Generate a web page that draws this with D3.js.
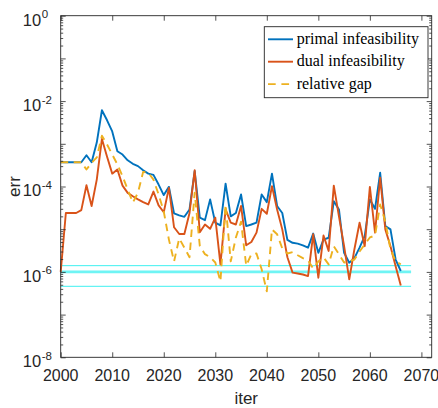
<!DOCTYPE html>
<html>
<head>
<meta charset="utf-8">
<script src="https://cdn.jsdelivr.net/npm/d3@7"></script>
<style>
  body { margin: 0; background: #fff; }
  svg { display: block; }
</style>
</head>
<body>
<svg id="chart"></svg>
<script>
// iterations 2000..2066
const iters = [
  2000, 2001, 2002, 2003, 2004, 2005, 2006, 2007, 2008, 2009,
  2010, 2011, 2012, 2013, 2014, 2015, 2016, 2017, 2018, 2019,
  2020, 2021, 2022, 2023, 2024, 2025, 2026, 2027, 2028, 2029,
  2030, 2031, 2032, 2033, 2034, 2035, 2036, 2037, 2038, 2039,
  2040, 2041, 2042, 2043, 2044, 2045, 2046, 2047, 2048, 2049,
  2050, 2051, 2052, 2053, 2054, 2055, 2056, 2057, 2058, 2059,
  2060, 2061, 2062, 2063, 2064, 2065, 2066
];

const primal = [
  3.7e-4, 3.7e-4, 3.7e-4, 3.7e-4, 3.7e-4, 5.4e-4, 3.7e-4, 1.07e-3, 6.1e-3, 3.55e-3,
  1.95e-3, 6.7e-4, 5.6e-4, 4.1e-4, 3.4e-4, 3.0e-4, 2.4e-4, 2.0e-4, 1.87e-4, 1.11e-4,
  6.3e-5, 9.8e-5, 2.34e-5, 2.1e-5, 1.95e-5, 2.9e-5, 2.3e-4, 1.86e-5, 1.63e-5, 5.0e-5,
  1.42e-5, 1.23e-5, 1.17e-4, 2.0e-5, 2.4e-5, 6.5e-5, 1.18e-5, 1.29e-5, 1.42e-5, 6.5e-5,
  4.3e-5, 2.0e-4, 3.5e-5, 2.4e-5, 5.6e-6, 4.8e-6, 4.6e-6, 4.2e-6, 3.7e-6, 7.9e-6,
  2.8e-6, 5.7e-6, 6.3e-6, 4.5e-5, 2.9e-5, 2.8e-6, 1.64e-6, 2.1e-6, 3.7e-6, 6.9e-6,
  5.0e-5, 3.0e-5, 2.1e-4, 1.18e-5, 9.9e-6, 1.95e-6, 1.05e-6
];

const dual = [
  1.0e-6, 2.4e-5, 2.4e-5, 2.4e-5, 2.8e-5, 1.07e-4, 3.5e-5, 1.45e-4, 1.3e-3, 5.0e-4,
  2.0e-4, 2.5e-4, 1.05e-4, 7.1e-5, 5.9e-5, 5.0e-5, 4.3e-5, 3.8e-5, 7.6e-5, 3.6e-5,
  2.5e-5, 9.3e-5, 1.11e-5, 7.7e-6, 7.7e-6, 2.4e-5, 2.4e-4, 8.5e-6, 1.29e-5, 1.02e-5,
  1.86e-5, 1.5e-6, 2.9e-5, 1.42e-5, 1.29e-5, 3.5e-5, 4.2e-6, 5.0e-6, 8.3e-6, 3.0e-5,
  2.3e-5, 1.02e-4, 2.9e-5, 9.9e-6, 2.2e-6, 9.6e-7, 9.2e-7, 8.7e-7, 8.0e-7, 7.6e-6,
  7.3e-7, 7.1e-6, 3.1e-6, 1.05e-4, 2.0e-5, 4.0e-6, 6.7e-7, 3.4e-6, 1.42e-5, 4.0e-6,
  9.8e-5, 8.3e-6, 1.6e-4, 9.9e-6, 4.0e-6, 1.36e-6, 4.8e-7
];

const relgap = [
  3.7e-4, 3.7e-4, 3.7e-4, 3.7e-4, 3.7e-4, 2.5e-4, 3.6e-4, 4.8e-4, 1.55e-3, 9.6e-4,
  5.6e-4, 3.3e-4, 1.74e-4, 8.5e-5, 4.2e-5, 7.2e-5, 2.2e-4, 2.1e-4, 1.45e-4, 6.5e-5,
  2.6e-5, 5.7e-6, 1.76e-6, 6.1e-6, 3.7e-6, 2.2e-6, 7.2e-5, 4.0e-6, 2.6e-6, 2.2e-6,
  1.66e-6, 6.0e-7, 3.8e-5, 1.76e-6, 6.4e-6, 1.5e-5, 1.4e-6, 2.6e-6, 2.7e-6, 1.15e-6,
  3.5e-7, 9.9e-6, 7.6e-6, 3.55e-6, 2.7e-6, 2.9e-6, 2.45e-6, 2.1e-6, 1.86e-6, 1.2e-6,
  1.76e-6, 2.2e-6, 1.5e-6, 4.0e-6, 2.6e-6, 1.66e-6, 1.76e-6, 1.95e-6, 3.0e-6, 4.4e-6,
  6.4e-6, 7.1e-6, 3.8e-5, 1.5e-5, 3.4e-6, 1.76e-6, 1.5e-6
];

// horizontal reference lines (tolerances)
const tolLevels = [1.4e-6, 1e-6, 4.6e-7];
const tolWidths = [1, 2.6, 1];
const tolSpan = [2000, 2068];

const xTicks = [2000, 2010, 2020, 2030, 2040, 2050, 2060, 2070];
const yExps = [0, -2, -4, -6, -8];

const series = [
  { name: 'primal infeasibility', values: primal, color: '#0072BD', dash: null },
  { name: 'dual infeasibility', values: dual, color: '#D95319', dash: null },
  { name: 'relative gap', values: relgap, color: '#EDB120', dash: '7.5,5.5' }
];

const width = 438, height = 408;
const margin = { top: 15.7, right: 6.3, bottom: 50.7, left: 60.7 };
const w = width - margin.left - margin.right;
const h = height - margin.top - margin.bottom;
const axisColor = '#262626';
const lineW = 1.9;

const svg = d3.select('#chart').attr('width', width).attr('height', height);
const g = svg.append('g').attr('transform', `translate(${margin.left},${margin.top})`);

const x = d3.scaleLinear().domain([2000, 2072]).range([0, w]);
const y = d3.scaleLog().domain([1e-8, 1]).range([h, 0]);

// minor/major log ticks
const majorY = d3.range(-8, 1).map(e => Math.pow(10, e));
const minorY = [];
for (let e = -8; e < 0; e++) for (let k = 2; k <= 9; k++) minorY.push(k * Math.pow(10, e));

// reference lines
tolLevels.forEach((v, i) => {
  g.append('line')
    .attr('x1', x(tolSpan[0])).attr('x2', x(tolSpan[1]))
    .attr('y1', y(v)).attr('y2', y(v))
    .attr('stroke', i === 1 ? '#6ff4f4' : '#3ff0f0')
    .attr('stroke-width', tolWidths[i]);
});

// series lines
const line = d3.line()
  .x((d, i) => x(iters[i]))
  .y(d => y(d));

series.forEach(s => {
  g.append('path')
    .datum(s.values)
    .attr('d', line)
    .attr('fill', 'none')
    .attr('stroke', s.color)
    .attr('stroke-width', lineW)
    .attr('stroke-linejoin', 'round')
    .attr('stroke-dasharray', s.dash);
});

// axes: ticks inside, box on
function styleAxis(sel) {
  sel.select('.domain').remove();
  sel.selectAll('.tick line').attr('stroke', axisColor).attr('stroke-width', 0.8);
  sel.selectAll('.tick text').remove();
}

g.append('g').attr('transform', `translate(0,${h})`)
  .call(d3.axisBottom(x).tickValues(xTicks).tickSize(-5)).call(styleAxis);
g.append('g')
  .call(d3.axisTop(x).tickValues(xTicks).tickSize(-5)).call(styleAxis);

g.append('g').call(d3.axisLeft(y).tickValues(majorY).tickSize(-5)).call(styleAxis);
g.append('g').call(d3.axisLeft(y).tickValues(minorY).tickSize(-2.5)).call(styleAxis);
g.append('g').attr('transform', `translate(${w},0)`)
  .call(d3.axisRight(y).tickValues(majorY).tickSize(-5)).call(styleAxis);
g.append('g').attr('transform', `translate(${w},0)`)
  .call(d3.axisRight(y).tickValues(minorY).tickSize(-2.5)).call(styleAxis);

g.append('rect')
  .attr('width', w).attr('height', h)
  .attr('fill', 'none')
  .attr('stroke', axisColor)
  .attr('stroke-width', 0.9);

// tick labels
const tickFont = '"Liberation Sans", Arial, sans-serif';
g.selectAll('.xlab')
  .data(xTicks)
  .enter().append('text')
  .attr('class', 'xlab')
  .attr('x', d => x(d))
  .attr('y', h + 24)
  .attr('text-anchor', 'middle')
  .attr('font-family', tickFont)
  .attr('font-size', 16)
  .attr('fill', axisColor)
  .text(d => d);

yExps.forEach(e => {
  const yy = y(Math.pow(10, e));
  g.append('text')
    .attr('x', -19.5)
    .attr('y', yy + 10)
    .attr('text-anchor', 'end')
    .attr('font-family', tickFont)
    .attr('font-size', 16.5)
    .attr('fill', axisColor)
    .text('10');
  g.append('text')
    .attr('x', -19)
    .attr('y', yy + 2.5)
    .attr('text-anchor', 'start')
    .attr('font-family', tickFont)
    .attr('font-size', 11.5)
    .attr('fill', axisColor)
    .text(e === 0 ? '0' : '-' + Math.abs(e));
});

// axis titles
svg.append('text')
  .attr('x', margin.left + w / 2)
  .attr('y', 404)
  .attr('text-anchor', 'middle')
  .attr('font-family', tickFont)
  .attr('font-size', 17)
  .attr('fill', axisColor)
  .text('iter');

svg.append('text')
  .attr('transform', `translate(20,${margin.top + h / 2}) rotate(-90)`)
  .attr('text-anchor', 'middle')
  .attr('font-family', tickFont)
  .attr('font-size', 17)
  .attr('fill', axisColor)
  .text('err');

// legend
const legend = svg.append('g').attr('transform', 'translate(264.3,26.7)');
legend.append('rect')
  .attr('width', 163.7).attr('height', 71)
  .attr('fill', '#fff')
  .attr('stroke', axisColor)
  .attr('stroke-width', 0.9);

series.forEach((s, i) => {
  const ly = 12.6 + i * 22.4;
  legend.append('line')
    .attr('x1', 3.7).attr('x2', 28.7)
    .attr('y1', ly).attr('y2', ly)
    .attr('stroke', s.color)
    .attr('stroke-width', lineW)
    .attr('stroke-dasharray', s.dash ? '7.7,5.7' : null);
  legend.append('text')
    .attr('x', 32.4)
    .attr('y', ly + 4.5)
    .attr('font-family', '"Liberation Serif", "Times New Roman", serif')
    .attr('font-size', 16)
    .attr('fill', '#000')
    .text(s.name);
});
</script>
</body>
</html>
